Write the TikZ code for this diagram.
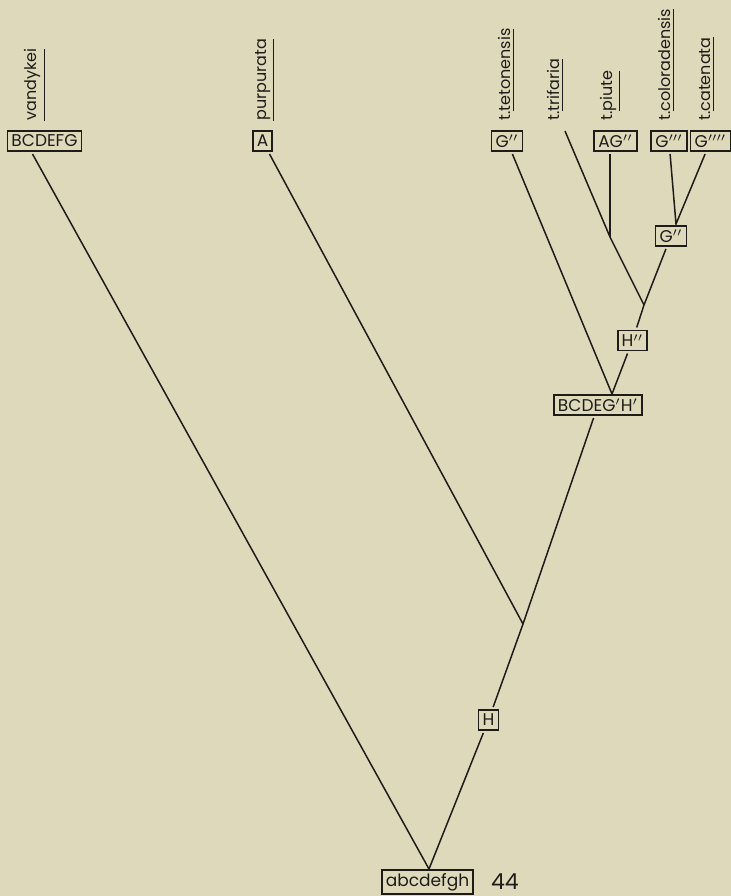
\documentclass[tikz,border=0pt]{standalone}
\usepackage{fontspec}
\setmainfont{Poppins}
\definecolor{paper}{RGB}{223,217,187}
\definecolor{ink}{RGB}{30,28,24}

\begin{document}
\begin{tikzpicture}[x=0.5pt,y=-0.5pt,
  taxon/.style={draw=ink,line width=0.85pt,inner xsep=2pt,inner ysep=1.5pt,outer sep=1.5pt,
    minimum height=10pt,text=ink,font=\fontsize{8.5}{10}\selectfont},
  form/.style={rotate=90,anchor=base west,inner sep=0pt,text=ink,font=\fontsize{8}{9}\selectfont},
  branch/.style={draw=ink,line width=0.75pt}]

% Paper
\fill[paper] (0,0) rectangle (731,896);
\useasboundingbox (0,0) rectangle (731,896);

% Names of the forms
\foreach \n/\x/\t in {n1/37/\underline{vandykei}, n2/266/\underline{purpurata},
    n3/510/t.\underline{tetonensis}, n4/559/t.\underline{trifaria}, n5/612/t.\underline{piute},
    n6/670/t.\underline{coloradensis}, n7/710/t.\underline{catenata}}
  \node[form] (\n) at (\x,121) {\t};

% Top row of boxes
\foreach \n/\x/\t in {b1/44.5/BCDEFG, b2/262.5/A, b3/507/G$''$, b4/615.5/AG$''$,
    b5/669/G$'''$, b6/710.5/G$''''$}
  \node[taxon] (\n) at (\x,141) {\t};

% Inner boxes
\node[taxon] (g2) at (671,236) {G$''$};
\node[taxon] (h2) at (632.5,340.5) {H$''$};
\node[taxon] (bc) at (598,405) {BCDEG$'$H$'$};
\node[taxon] (h1) at (488.5,720) {H};
\node[taxon] (root) at (427.5,882) {abcdefgh};

% Forks
\coordinate (r) at (429,869);
\coordinate (j1) at (523,624);
\coordinate (j2) at (612,394);
\coordinate (j3) at (644,305);
\coordinate (j4) at (610,237);
\coordinate (j5) at (676,224);
\coordinate (t0) at (565,131);

% Branches
\draw[branch] (b1.south) ++(-6pt,0) -- (r);
\draw[branch] (b2) -- (j1) -- (h1) -- (r);
\draw[branch] (bc) -- (j1);
\draw[branch] (b3) -- (j2);
\draw[branch] (j2) -- (h2) -- (j3) -- (g2);
\draw[branch] (t0) -- (j4) -- (j3);
\draw[branch] (b4.south -| j4) -- (j4);
\draw[branch] (b5) -- (j5) -- (b6);

% Page number
\node[anchor=west,text=ink,font=\fontsize{11}{12}\selectfont] (pg) at (484,882) {44};

\end{tikzpicture}
\end{document}
